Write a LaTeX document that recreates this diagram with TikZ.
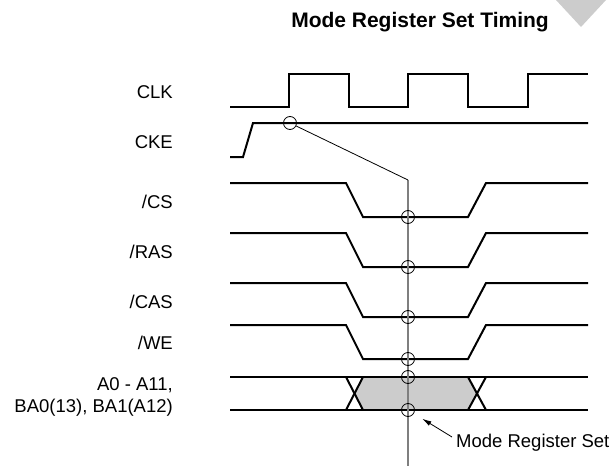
\documentclass[tikz,border=0pt]{standalone}
\usepackage{fontspec}
\setmainfont{Liberation Sans}
\usetikzlibrary{arrows.meta}
\definecolor{Shade}{HTML}{CCCCCC}
\definecolor{Probe}{HTML}{7F7F7F}
\definecolor{Ink}{HTML}{000000}

\begin{document}
\begin{tikzpicture}[x=1pt,y=-1pt,every node/.style={font=\fontsize{18.5}{22}\selectfont,text=Ink},
  sig/.style={Ink,line width=2pt},
  hit/.style={circle,draw=Ink,line width=.8pt,minimum size=13pt,inner sep=0pt},
  sname/.style={anchor=base east,inner sep=0pt}]
\useasboundingbox (0,0) rectangle (616,474);
\fill[Shade] (556,0) -- (606,0) -- (581,27) -- cycle;
\node[font=\fontsize{21}{24}\selectfont\bfseries,anchor=base,inner sep=0pt] (title) at (420,27) {Mode Register Set Timing};
% signal names
\node[sname] (clk) at (173,98) {CLK};
\node[sname] (cke) at (173,148) {CKE};
\node[sname] (cs) at (173,208) {/CS};
\node[sname] (ras) at (173,258) {/RAS};
\node[sname] (cas) at (173,308) {/CAS};
\node[sname] (we) at (173,349) {/WE};
\node[sname] (addr) at (173,390) {A0 - A11,};
\node[sname] (bank) at (173,412) {BA0(13), BA1(A12)};
% waveforms
\draw[sig] (230,107) -- (289,107) -- (289,74) -- (349,74) -- (349,107) -- (408,107) -- (408,74) -- (468,74) -- (468,107) -- (528,107) -- (528,74) -- (588,74);
\draw[sig] (230,157) -- (243,157) -- (253,123) -- (588,123);
\draw[sig] (230,183) -- (346,183) -- (363,217) -- (468,217) -- (486,183) -- (588,183);
\draw[sig] (230,233) -- (346,233) -- (363,267) -- (468,267) -- (486,233) -- (588,233);
\draw[sig] (230,283) -- (346,283) -- (363,317) -- (468,317) -- (486,283) -- (588,283);
\draw[sig] (230,325) -- (346,325) -- (363,359) -- (468,359) -- (486,325) -- (588,325);
% address bus
\fill[Shade] (363,377) -- (468,377) -- (477,393.5) -- (468,410) -- (363,410) -- (354.5,393.5) -- cycle;
\draw[sig] (230,377) -- (588,377);
\draw[sig] (230,410) -- (588,410);
\draw[sig] (346,377) -- (363,410);
\draw[sig] (363,377) -- (346,410);
\draw[sig] (468,377) -- (486,410);
\draw[sig] (486,377) -- (468,410);
% sampling line
\coordinate (bend) at (408,180);
\coordinate (foot) at (408,466);
\draw[Probe,line width=1.5pt] (bend) -- (foot);
\node[hit] (ckehit) at (290,123) {};
\node[hit] (cshit) at (408,217) {};
\node[hit] (rashit) at (408,267) {};
\node[hit] (cashit) at (408,317) {};
\node[hit] (wehit) at (408,359) {};
\node[hit] (addrhit) at (408,377) {};
\node[hit] (bankhit) at (408,410) {};
\draw[Ink,line width=.8pt] (ckehit) -- (bend);
\node[anchor=west,inner sep=0pt] (msr) at (456,443) {Mode Register Set};
\draw[Ink,line width=.8pt,-{Latex[length=9pt,width=5pt]},shorten >=10pt] ([xshift=-4pt,yshift=6pt]msr.west) -- (bankhit);
\end{tikzpicture}
\end{document}
